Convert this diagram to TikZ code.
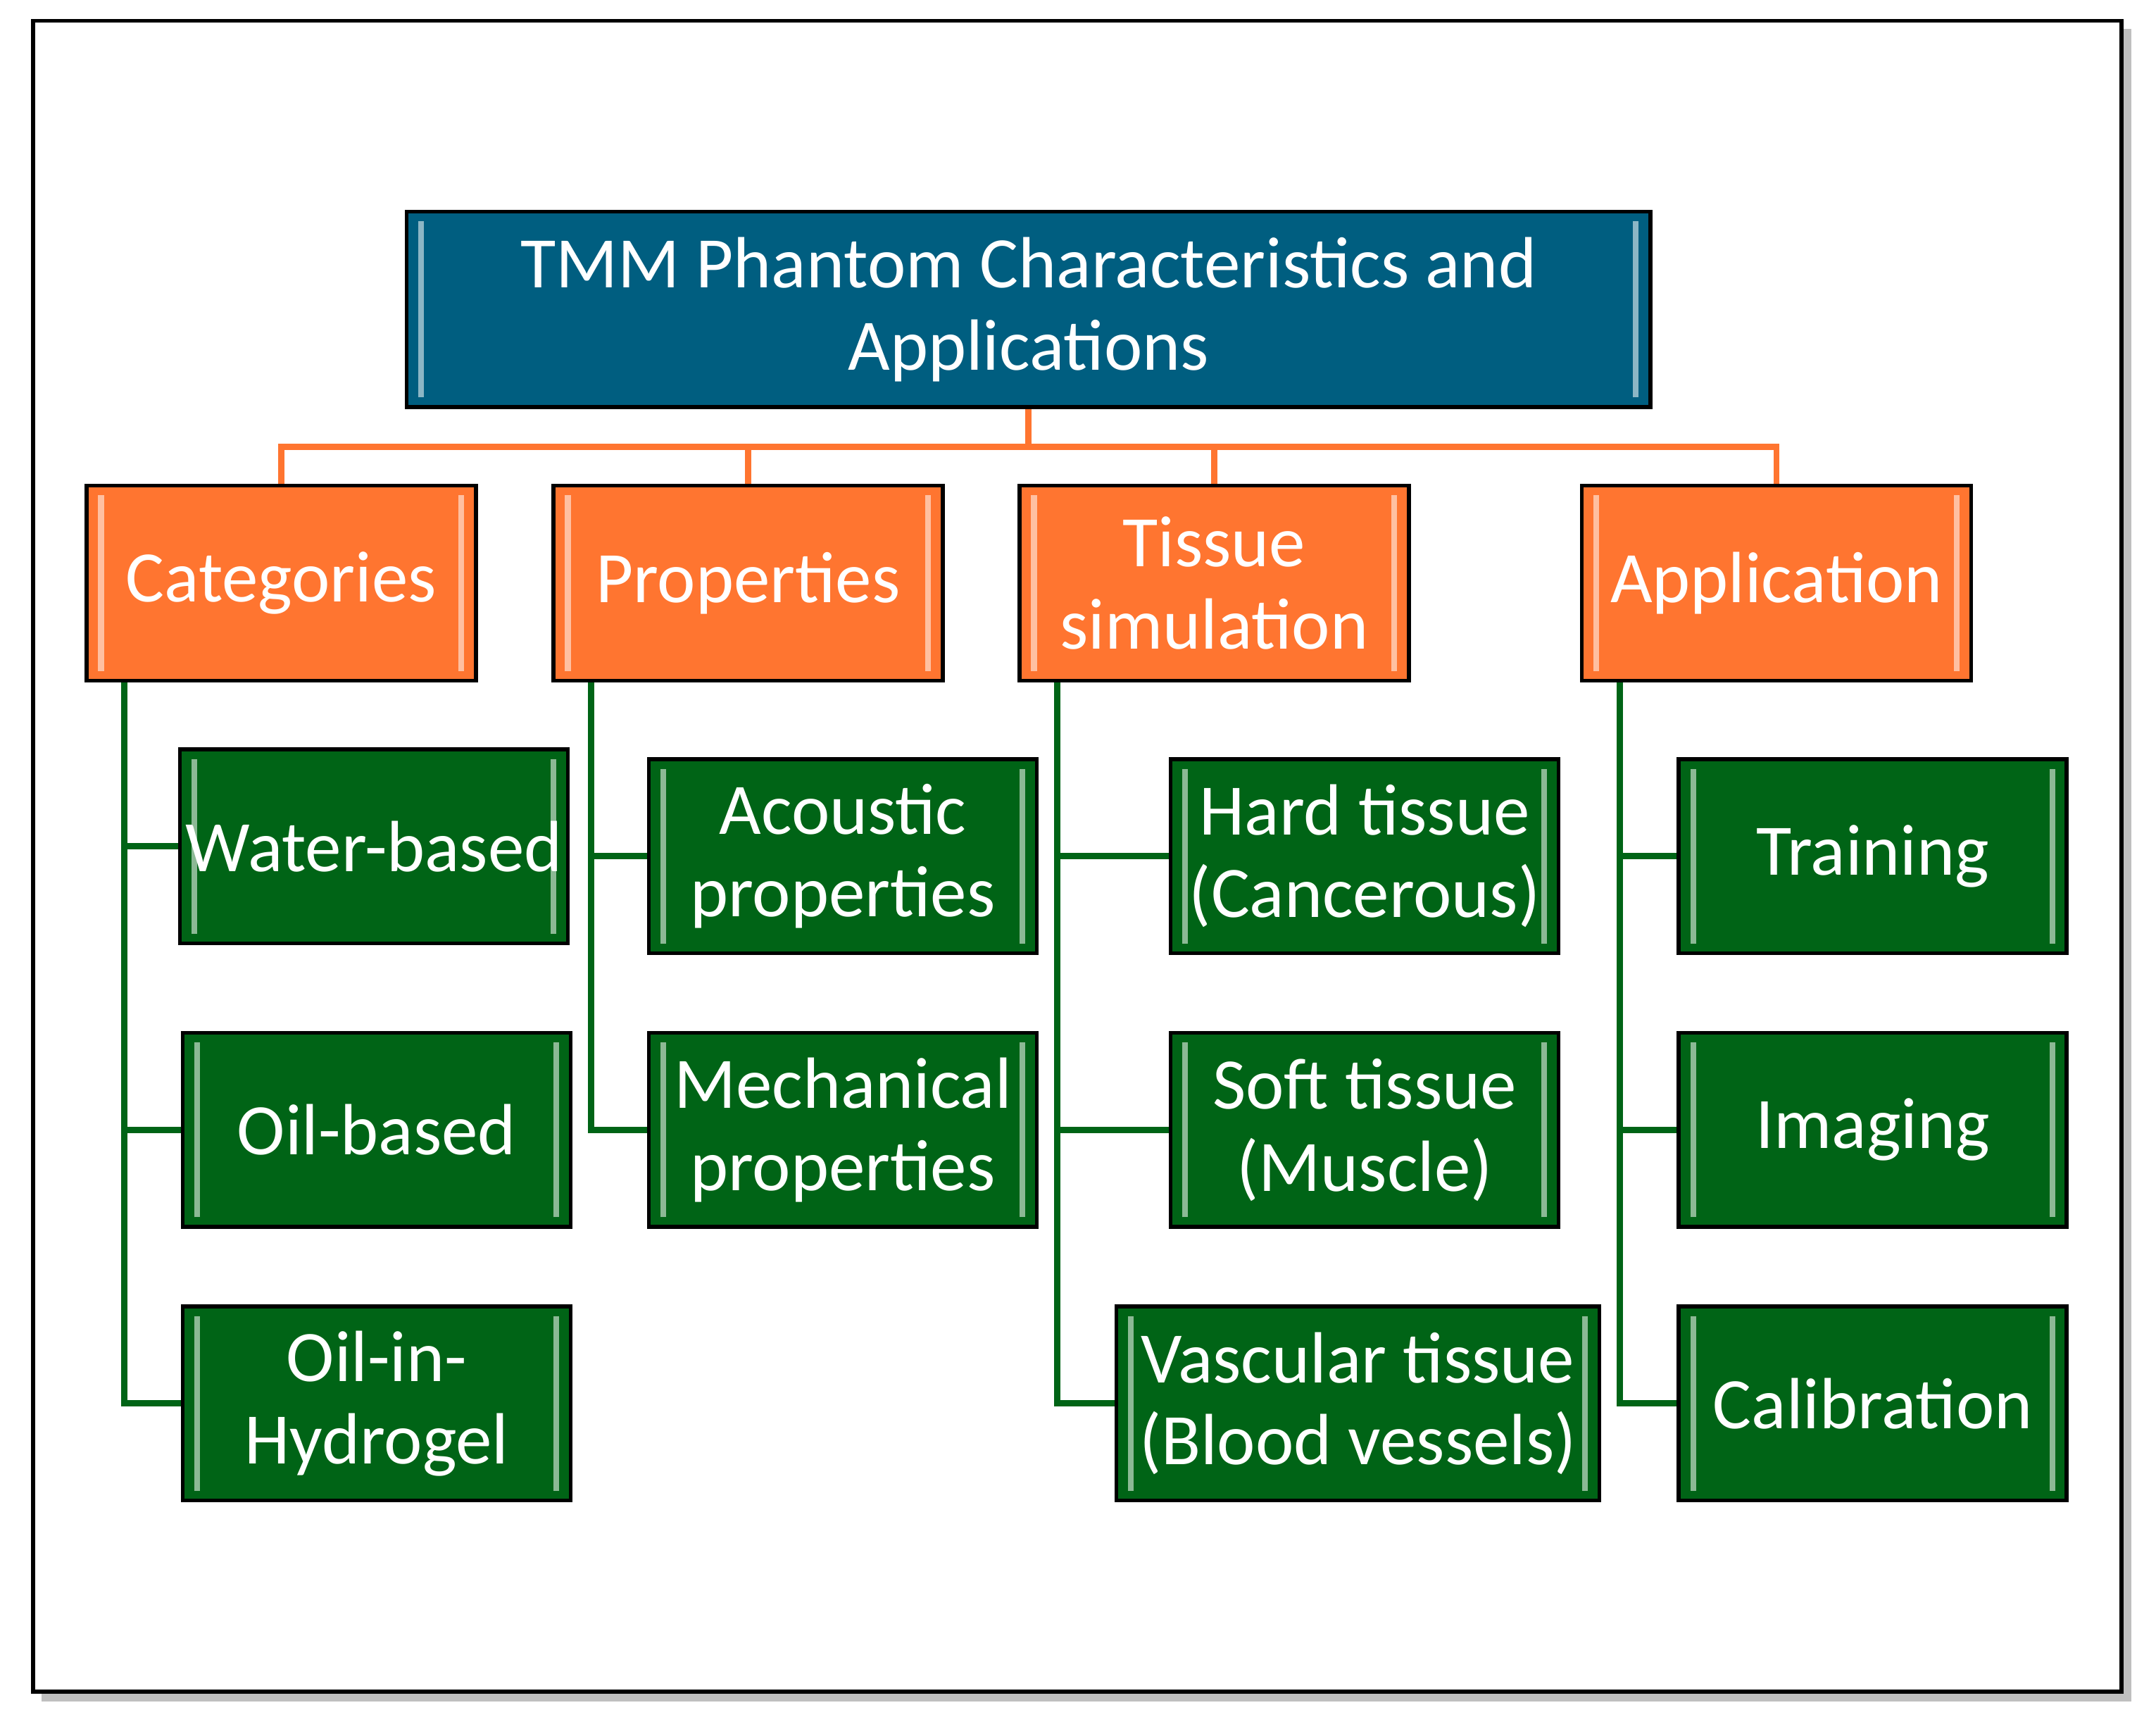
\documentclass[tikz,border=0pt]{standalone}
\usepackage{fontspec}
\setmainfont{Carlito}
\begin{document}
\begin{tikzpicture}[x=0.01cm,y=-0.01cm,
  bx/.style={draw=black,line width=0.8pt,align=center,inner sep=0pt,text=white,font=\fontsize{15}{17}\selectfont,
    minimum height=1.41cm,minimum width=2.82cm,
    path picture={\draw[white,opacity=0.55,line width=1.2pt]
      ([xshift=3pt,yshift=2pt]path picture bounding box.south west)--([xshift=3pt,yshift=-2pt]path picture bounding box.north west)
      ([xshift=-3pt,yshift=2pt]path picture bounding box.south east)--([xshift=-3pt,yshift=-2pt]path picture bounding box.north east);}},
  tb/.style={bx,fill=tealc,minimum width=9.04cm,minimum height=1.42cm},
  ob/.style={bx,fill=orangec,minimum width=2.83cm,minimum height=1.42cm},
  gb/.style={bx,fill=greenc},
  ol/.style={draw=orangec,line width=1.3pt},
  gl/.style={draw=greenc,line width=1.3pt}]
\definecolor{tealc}{RGB}{0,94,128}
\definecolor{orangec}{RGB}{255,117,48}
\definecolor{greenc}{RGB}{0,100,22}
\useasboundingbox (0,0) rectangle (1568,1248);
\fill[black!25] (30,21) rectangle (1550,1237);
\draw[fill=white,line width=0.8pt] (24,15) rectangle (1543,1230);
\node[tb] (title) at (748,225) {TMM Phantom Characteristics and\\Applications};
\node[ob] (cat) at (204.5,424) {Categories};
\node[ob] (prop) at (544,424) {Properties};
\node[ob] (tis) at (883,424) {Tissue\\simulation};
\node[ob] (app) at (1292,424) {Application};
\node[gb] (water) at (272,615.5) {Water-based};
\node[gb] (oil) at (274,821.5) {Oil-based};
\node[gb] (hydro) at (274,1020.5) {Oil-in-\\Hydrogel};
\node[gb] (ac) at (613,622.5) {Acoustic\\properties};
\node[gb] (mech) at (613,821.5) {Mechanical\\properties};
\node[gb] (hard) at (992.5,622.5) {Hard tissue\\(Cancerous)};
\node[gb] (soft) at (992.5,821.5) {Soft tissue\\(Muscle)};
\node[gb,minimum width=3.51cm] (vasc) at (987.5,1020.5) {Vascular tissue\\(Blood vessels)};
\node[gb] (train) at (1362,622.5) {Training};
\node[gb] (img) at (1362,821.5) {Imaging};
\node[gb] (cal) at (1362,1020.5) {Calibration};
\coordinate (bus) at (748,325);
\draw[ol] (title.south) -- (bus);
\foreach \n in {cat,prop,tis,app} \draw[ol] (bus) -| (\n.north);
\foreach \p/\c in {cat/water,cat/oil,cat/hydro,prop/ac,prop/mech,tis/hard,tis/soft,tis/vasc,app/train,app/img,app/cal}
  \draw[gl] ([xshift=0.29cm]\p.south west) |- (\c.west);
\end{tikzpicture}
\end{document}
